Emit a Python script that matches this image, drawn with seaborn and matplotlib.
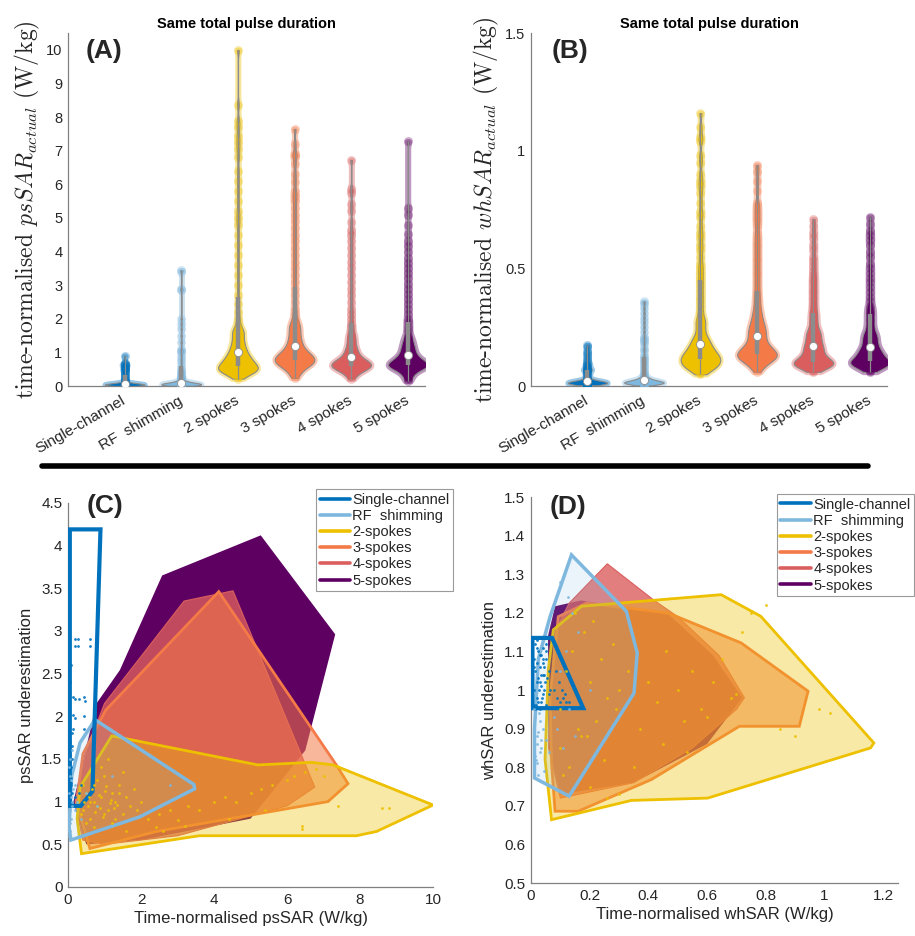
import numpy as np
import pandas as pd
import matplotlib
matplotlib.use('Agg')
import matplotlib.pyplot as plt
import seaborn as sns
from matplotlib.lines import Line2D
from matplotlib.ticker import FuncFormatter

# ---------------- data ----------------
categories = ['Single-channel', 'RF  shimming', '2 spokes', '3 spokes', '4 spokes', '5 spokes']
legend_labels = ['Single-channel', 'RF  shimming', '2-spokes', '3-spokes', '4-spokes', '5-spokes']
colors = ['#0072BD', '#7FB8DE', '#EDC000', '#F47A48', '#DB5E5E', '#5E0062']

# (A) time-normalised psSAR (W/kg)
ps_single = [0.0, 0.0, 0.01, 0.01, 0.01, 0.015, 0.02, 0.02, 0.02, 0.025, 0.03, 0.03, 0.03, 0.03,
             0.035, 0.04, 0.04, 0.04, 0.04, 0.045, 0.05, 0.05, 0.05, 0.05, 0.055, 0.06, 0.06, 0.06,
             0.065, 0.07, 0.07, 0.075, 0.08, 0.08, 0.09, 0.1, 0.12, 0.14, 0.17, 0.2, 0.24, 0.28,
             0.32, 0.36, 0.4, 0.44, 0.47, 0.5, 0.52, 0.55, 0.58, 0.6, 0.62, 0.64, 0.66, 0.68, 0.9]
ps_rf = [0.0, 0.005, 0.01, 0.01, 0.015, 0.02, 0.02, 0.025, 0.03, 0.03, 0.035, 0.04, 0.04, 0.045,
         0.05, 0.05, 0.05, 0.055, 0.06, 0.06, 0.06, 0.065, 0.07, 0.07, 0.075, 0.08, 0.08, 0.085,
         0.09, 0.095, 0.1, 0.11, 0.12, 0.13, 0.14, 0.16, 0.18, 0.2, 0.23, 0.26, 0.3, 0.35, 0.4,
         0.45, 0.5, 0.6, 0.7, 0.8, 0.9, 1.0, 1.05, 1.1, 1.3, 1.5, 1.7, 1.85, 2.0, 2.85, 2.9, 3.4, 3.45]
ps_2sp = [0.22, 0.26, 0.3, 0.33, 0.36, 0.38, 0.4, 0.42, 0.43, 0.44, 0.46, 0.47, 0.48, 0.49, 0.5,
          0.51, 0.52, 0.53, 0.54, 0.56, 0.57, 0.59, 0.6, 0.62, 0.63, 0.65, 0.66, 0.68, 0.7, 0.71,
          0.73, 0.75, 0.77, 0.79, 0.81, 0.83, 0.85, 0.87, 0.9, 0.92, 0.95, 0.98, 1.01, 1.04, 1.07,
          1.1, 1.14, 1.18, 1.22, 1.26, 1.3, 1.35, 1.4, 1.45, 1.5, 1.55, 1.6, 1.64, 1.68, 1.72,
          1.85, 2.0, 2.2, 2.45, 2.7, 3.0, 3.3, 3.6, 3.9, 4.2, 4.5, 4.8, 5.0, 5.2, 5.5, 5.8, 6.1,
          6.4, 6.8, 7.05, 7.25, 7.45, 7.7, 7.9, 8.37, 10.0]
ps_3sp = [0.24, 0.3, 0.36, 0.41, 0.45, 0.49, 0.52, 0.55, 0.57, 0.59, 0.61, 0.63, 0.65, 0.66, 0.67,
          0.68, 0.7, 0.71, 0.72, 0.74, 0.75, 0.77, 0.78, 0.79, 0.8, 0.82, 0.83, 0.84, 0.86, 0.87,
          0.88, 0.9, 0.92, 0.93, 0.95, 0.97, 0.99, 1.01, 1.03, 1.05, 1.08, 1.11, 1.14, 1.17, 1.2,
          1.24, 1.28, 1.32, 1.36, 1.4, 1.45, 1.5, 1.55, 1.6, 1.65, 1.7, 1.75, 1.8, 1.85, 1.9,
          2.0, 2.15, 2.3, 2.5, 2.7, 2.9, 3.1, 3.3, 3.5, 3.7, 3.9, 4.1, 4.3, 4.5, 4.7, 4.9, 5.1,
          5.3, 5.5, 5.65, 5.8, 6.07, 6.3, 6.6, 6.85, 6.9, 7.2, 7.65]
ps_4sp = [0.22, 0.27, 0.31, 0.35, 0.38, 0.41, 0.43, 0.45, 0.47, 0.49, 0.5, 0.51, 0.52, 0.53, 0.54,
          0.55, 0.56, 0.57, 0.58, 0.59, 0.6, 0.61, 0.62, 0.63, 0.64, 0.65, 0.66, 0.67, 0.68, 0.69,
          0.7, 0.71, 0.72, 0.73, 0.74, 0.75, 0.77, 0.78, 0.8, 0.82, 0.84, 0.86, 0.88, 0.9, 0.93,
          0.96, 0.99, 1.02, 1.05, 1.08, 1.12, 1.16, 1.2, 1.25, 1.3, 1.35, 1.4, 1.45, 1.5, 1.55,
          1.65, 1.75, 1.85, 2.0, 2.15, 2.3, 2.5, 2.7, 2.9, 3.1, 3.3, 3.5, 3.7, 3.9, 4.1, 4.3, 4.5,
          4.63, 4.88, 5.22, 5.42, 5.74, 5.87, 6.73]
ps_5sp = [0.15, 0.2, 0.25, 0.3, 0.34, 0.38, 0.41, 0.44, 0.46, 0.48, 0.5, 0.52, 0.53, 0.54, 0.55,
          0.56, 0.57, 0.58, 0.59, 0.6, 0.61, 0.62, 0.63, 0.64, 0.65, 0.66, 0.67, 0.68, 0.69, 0.7,
          0.71, 0.72, 0.74, 0.75, 0.76, 0.78, 0.8, 0.81, 0.83, 0.85, 0.87, 0.89, 0.91, 0.93, 0.96,
          0.99, 1.02, 1.05, 1.08, 1.11, 1.14, 1.17, 1.2, 1.24, 1.28, 1.32, 1.36, 1.4, 1.45, 1.5,
          1.6, 1.7, 1.8, 1.9, 2.0, 2.15, 2.3, 2.45, 2.6, 2.75, 2.9, 3.05, 3.2, 3.35, 3.5, 3.65,
          3.8, 3.99, 4.16, 4.32, 4.53, 4.78, 5.1, 5.29, 7.28]

# (B) time-normalised whSAR (W/kg)
wh_single = [0.003, 0.004, 0.005, 0.005, 0.006, 0.007, 0.008, 0.008, 0.009, 0.01, 0.01, 0.011,
             0.012, 0.012, 0.013, 0.013, 0.014, 0.014, 0.015, 0.015, 0.015, 0.016, 0.016, 0.017,
             0.018, 0.018, 0.019, 0.02, 0.02, 0.021, 0.022, 0.023, 0.025, 0.028, 0.03, 0.035, 0.04,
             0.045, 0.05, 0.055, 0.06, 0.065, 0.068, 0.07, 0.072, 0.075, 0.08, 0.085, 0.09, 0.095,
             0.1, 0.11, 0.12, 0.13, 0.14, 0.15, 0.165, 0.175]
wh_rf = [0.002, 0.004, 0.005, 0.006, 0.007, 0.008, 0.009, 0.01, 0.01, 0.011, 0.012, 0.012, 0.013,
         0.014, 0.014, 0.015, 0.015, 0.016, 0.016, 0.017, 0.017, 0.018, 0.018, 0.019, 0.02, 0.021,
         0.022, 0.023, 0.024, 0.025, 0.027, 0.029, 0.031, 0.033, 0.036, 0.04, 0.045, 0.05, 0.06,
         0.07, 0.08, 0.09, 0.1, 0.11, 0.12, 0.13, 0.15, 0.16, 0.18, 0.19, 0.2, 0.21, 0.23, 0.25,
         0.27, 0.29, 0.31, 0.33, 0.35, 0.36]
wh_2sp = [0.05, 0.055, 0.06, 0.065, 0.07, 0.073, 0.076, 0.079, 0.082, 0.085, 0.087, 0.089, 0.091,
          0.093, 0.095, 0.097, 0.099, 0.101, 0.104, 0.108, 0.11, 0.112, 0.114, 0.116, 0.118, 0.12,
          0.122, 0.124, 0.126, 0.128, 0.13, 0.133, 0.136, 0.139, 0.142, 0.145, 0.148, 0.151,
          0.154, 0.157, 0.16, 0.164, 0.168, 0.172, 0.176, 0.18, 0.185, 0.19, 0.195, 0.2, 0.205,
          0.21, 0.22, 0.23, 0.24, 0.25, 0.26, 0.27, 0.28, 0.283, 0.3, 0.32, 0.34, 0.36, 0.38,
          0.4, 0.42, 0.44, 0.46, 0.48, 0.5, 0.52, 0.55, 0.58, 0.6, 0.63, 0.65, 0.68, 0.72, 0.74,
          0.78, 0.82, 0.85, 0.87, 0.9, 0.95, 0.98, 1.04, 1.06, 1.1, 1.16]
wh_3sp = [0.06, 0.07, 0.078, 0.085, 0.09, 0.095, 0.1, 0.104, 0.107, 0.11, 0.112, 0.114, 0.116,
          0.118, 0.12, 0.122, 0.124, 0.126, 0.128, 0.13, 0.132, 0.134, 0.136, 0.138, 0.14, 0.142,
          0.144, 0.146, 0.148, 0.15, 0.153, 0.156, 0.159, 0.162, 0.165, 0.168, 0.172, 0.176,
          0.18, 0.185, 0.19, 0.195, 0.2, 0.205, 0.21, 0.215, 0.22, 0.225, 0.23, 0.235, 0.24,
          0.245, 0.25, 0.256, 0.262, 0.268, 0.275, 0.283, 0.291, 0.3, 0.31, 0.32, 0.33, 0.345,
          0.36, 0.375, 0.39, 0.41, 0.43, 0.45, 0.47, 0.49, 0.51, 0.53, 0.55, 0.57, 0.59, 0.61,
          0.63, 0.65, 0.68, 0.7, 0.72, 0.74, 0.76, 0.78, 0.83, 0.87, 0.91, 0.94]
wh_4sp = [0.06, 0.065, 0.07, 0.074, 0.077, 0.08, 0.082, 0.084, 0.086, 0.088, 0.09, 0.091, 0.092,
          0.093, 0.094, 0.095, 0.096, 0.097, 0.098, 0.1, 0.102, 0.104, 0.106, 0.108, 0.11, 0.112,
          0.115, 0.118, 0.121, 0.124, 0.127, 0.13, 0.134, 0.138, 0.142, 0.146, 0.15, 0.154,
          0.157, 0.16, 0.164, 0.168, 0.172, 0.176, 0.18, 0.185, 0.19, 0.195, 0.2, 0.205, 0.21,
          0.215, 0.22, 0.225, 0.23, 0.235, 0.24, 0.25, 0.26, 0.27, 0.28, 0.29, 0.3, 0.31, 0.32,
          0.335, 0.35, 0.365, 0.38, 0.395, 0.41, 0.425, 0.44, 0.455, 0.47, 0.49, 0.51, 0.53,
          0.55, 0.58, 0.6, 0.63, 0.65, 0.68, 0.71]
wh_5sp = [0.06, 0.065, 0.07, 0.074, 0.077, 0.08, 0.082, 0.084, 0.086, 0.088, 0.09, 0.092, 0.094,
          0.096, 0.097, 0.098, 0.099, 0.1, 0.101, 0.102, 0.104, 0.106, 0.108, 0.11, 0.112, 0.114,
          0.117, 0.12, 0.123, 0.126, 0.129, 0.132, 0.135, 0.138, 0.141, 0.144, 0.147, 0.15,
          0.153, 0.155, 0.16, 0.165, 0.17, 0.175, 0.18, 0.185, 0.19, 0.195, 0.2, 0.205, 0.21,
          0.215, 0.22, 0.225, 0.23, 0.24, 0.25, 0.26, 0.27, 0.28, 0.29, 0.3, 0.31, 0.32, 0.33,
          0.34, 0.36, 0.38, 0.4, 0.42, 0.44, 0.46, 0.48, 0.5, 0.52, 0.55, 0.57, 0.6, 0.62, 0.64,
          0.66, 0.69, 0.72]

# (C) hull vertices: x = time-normalised psSAR (W/kg), y = psSAR underestimation
hullC_single_x = [0.05, 0.89, 0.67, 0.35, 0.05]
hullC_single_y = [4.19, 4.19, 1.12, 0.95, 0.95]
hullC_rf_x = [0.74, 3.45, 3.47, 1.96, 0.08, 0.03, 0.1, 0.33]
hullC_rf_y = [1.96, 1.2, 1.15, 0.82, 0.55, 0.7, 1.3, 1.69]
hullC_2sp_x = [1.2, 5.2, 6.67, 7.26, 10.0, 8.45, 7.9, 3.6, 0.37, 0.25, 0.33]
hullC_2sp_y = [1.77, 1.43, 1.46, 1.43, 0.96, 0.65, 0.6, 0.6, 0.39, 0.8, 1.17]
hullC_3sp_x = [1.03, 4.13, 7.35, 7.67, 7.12, 2.42, 0.6, 0.23, 0.41]
hullC_3sp_y = [2.07, 3.46, 1.43, 1.21, 1.0, 0.65, 0.45, 0.98, 1.56]
hullC_4sp_x = [3.18, 4.52, 6.76, 6.0, 3.0, 1.0, 0.4, 0.2, 0.5, 1.0]
hullC_4sp_y = [3.35, 3.47, 1.17, 0.95, 0.6, 0.5, 0.55, 1.0, 1.6, 2.15]
hullC_5sp_x = [2.58, 5.28, 7.32, 6.5, 5.0, 2.0, 0.5, 0.15, 0.4, 0.78, 1.42, 1.9]
hullC_5sp_y = [3.65, 4.12, 2.96, 1.6, 0.8, 0.55, 0.5, 1.0, 1.45, 2.15, 2.54, 3.0]

# (C) sample points
ptsC_single_x = [0.2, 0.27, 0.2, 0.27, 0.6, 0.6, 0.15, 0.2, 0.45, 0.47, 0.15, 0.2, 0.45, 0.15, 0.45,
                 0.1, 0.05, 0.1, 0.05, 0.1, 0.05, 0.08, 0.04, 0.06, 0.04, 0.07, 0.05, 0.1, 0.04,
                 0.08, 0.12, 0.2, 0.3, 0.35, 0.05, 0.3, 0.08, 0.04, 0.06, 0.05, 0.07, 0.03, 0.09,
                 0.05, 0.06, 0.04]
ptsC_single_y = [2.9, 2.9, 2.82, 2.82, 2.9, 2.82, 2.23, 2.2, 2.23, 2.18, 2.02, 1.98, 2.0, 1.85, 1.85,
                 1.8, 1.7, 1.65, 1.55, 1.5, 1.45, 1.4, 1.35, 1.3, 1.25, 1.2, 1.15, 1.1, 1.05, 1.0,
                 0.98, 1.05, 1.1, 1.2, 2.4, 2.2, 2.6, 1.9, 1.6, 1.38, 1.28, 1.12, 1.22, 1.02, 1.48,
                 1.75]
ptsC_rf_x = [0.03, 0.05, 0.04, 0.06, 0.08, 0.03, 0.05, 0.1, 0.12, 0.07, 0.04, 0.15, 0.2, 0.09,
             0.05, 0.03, 0.25, 0.18, 0.06, 0.11, 0.5, 0.8, 1.2, 2.8, 0.35]
ptsC_rf_y = [0.6, 0.65, 0.7, 0.75, 0.8, 0.85, 0.9, 0.95, 1.0, 1.05, 1.1, 1.15, 1.2, 1.25, 1.3,
             1.4, 1.0, 0.9, 1.5, 1.6, 1.1, 0.95, 1.3, 1.2, 0.8]
ptsC_2sp_x = [0.4, 0.5, 0.6, 0.7, 0.8, 0.9, 1.0, 1.1, 1.2, 1.3, 1.4, 1.5, 1.6, 1.7, 1.8, 1.9, 2.0,
              0.5, 0.7, 0.9, 1.1, 1.3, 1.5, 0.6, 0.8, 1.0, 1.2, 1.4, 2.2, 2.5, 2.8, 3.0, 3.3, 3.6,
              4.0, 4.3, 4.6, 5.0, 5.3, 5.6, 6.0, 6.2, 6.5, 6.8, 7.0, 2.4, 3.2, 4.4, 5.4, 6.4,
              6.4, 7.4, 8.6, 8.8, 1.6, 2.6, 0.45, 0.55, 0.65, 0.75, 0.85, 0.95, 1.05, 1.15, 1.25,
              0.35, 0.42, 0.58, 0.72, 0.88, 1.02, 1.18, 1.35]
ptsC_2sp_y = [0.9, 1.1, 0.8, 1.2, 0.95, 1.05, 1.3, 0.9, 1.1, 1.0, 1.2, 0.85, 1.05, 0.95, 1.15,
              0.9, 1.0, 0.75, 0.7, 1.4, 1.5, 0.8, 1.35, 1.0, 1.25, 0.85, 0.75, 1.1, 0.8, 0.85,
              0.9, 0.78, 0.95, 0.9, 1.0, 1.05, 1.0, 1.1, 1.15, 1.2, 1.25, 1.3, 1.35, 1.38, 1.3,
              0.7, 0.72, 0.8, 0.9, 0.72, 0.68, 0.95, 0.92, 0.92, 0.65, 0.66, 1.0, 0.95, 1.15,
              0.88, 1.08, 0.82, 1.18, 0.98, 0.93, 0.85, 1.2, 1.05, 1.0, 0.92, 1.12, 1.02, 0.96]

# (D) hull vertices: x = time-normalised whSAR (W/kg), y = whSAR underestimation
hullD_single_x = [0.005, 0.072, 0.178, 0.005]
hullD_single_y = [1.135, 1.135, 0.953, 0.953]
hullD_rf_x = [0.138, 0.325, 0.362, 0.351, 0.13, 0.012, 0.012, 0.025, 0.065]
hullD_rf_y = [1.35, 1.204, 1.096, 0.992, 0.725, 0.772, 0.9, 1.08, 1.19]
hullD_2sp_x = [0.076, 0.172, 0.648, 0.783, 1.168, 1.157, 0.602, 0.342, 0.07, 0.048, 0.059]
hullD_2sp_y = [1.156, 1.217, 1.247, 1.191, 0.863, 0.85, 0.72, 0.714, 0.664, 0.82, 1.053]
hullD_3sp_x = [0.189, 0.466, 0.716, 0.944, 0.914, 0.71, 0.41, 0.161, 0.082, 0.07, 0.065, 0.093]
hullD_3sp_y = [1.225, 1.2, 1.122, 0.997, 0.906, 0.906, 0.768, 0.686, 0.686, 0.811, 0.984, 1.19]
hullD_4sp_x = [0.26, 0.42, 0.5, 0.64, 0.727, 0.7, 0.55, 0.35, 0.1, 0.06, 0.08, 0.13]
hullD_4sp_y = [1.327, 1.232, 1.19, 1.09, 0.98, 0.95, 0.85, 0.76, 0.72, 0.85, 1.15, 1.225]
hullD_5sp_x = [0.082, 0.17, 0.47, 0.62, 0.72, 0.6, 0.35, 0.1, 0.06, 0.058]
hullD_5sp_y = [1.217, 1.232, 1.195, 1.09, 0.98, 0.86, 0.76, 0.73, 0.85, 1.14]

# (D) sample points
ptsD_single_x = [0.01, 0.015, 0.02, 0.025, 0.03, 0.035, 0.04, 0.045, 0.05, 0.055, 0.06, 0.012,
                 0.018, 0.022, 0.028, 0.033, 0.038, 0.042, 0.048, 0.052, 0.08, 0.09, 0.1, 0.11,
                 0.12, 0.13, 0.085, 0.095, 0.105, 0.115, 0.02, 0.03, 0.04, 0.015, 0.025, 0.035,
                 0.045, 0.05, 0.06, 0.065, 0.01, 0.02, 0.03, 0.04, 0.015, 0.025, 0.035, 0.045,
                 0.01, 0.02, 0.03, 0.04, 0.05]
ptsD_single_y = [1.0, 1.05, 0.98, 1.1, 1.02, 0.97, 1.08, 1.0, 1.12, 1.03, 0.99, 1.06, 0.96, 1.11,
                 1.0, 1.04, 0.98, 1.07, 1.02, 0.96, 1.0, 0.98, 0.97, 0.98, 0.97, 0.97, 1.05, 1.02,
                 1.0, 0.99, 1.13, 1.09, 1.04, 0.95, 0.97, 1.01, 1.06, 1.1, 1.05, 1.0, 1.08, 1.02,
                 1.06, 0.99, 1.12, 1.03, 1.09, 1.04, 0.96, 1.07, 0.95, 1.11, 1.08]
ptsD_rf_x = [0.01, 0.015, 0.02, 0.025, 0.03, 0.012, 0.018, 0.022, 0.028, 0.035, 0.04, 0.045, 0.05,
             0.06, 0.08, 0.1, 0.12, 0.14, 0.1, 0.125, 0.09, 0.11, 0.13, 0.2, 0.15, 0.16, 0.01,
             0.02, 0.03, 0.015, 0.025, 0.035]
ptsD_rf_y = [0.8, 0.83, 0.86, 0.89, 0.92, 0.95, 0.82, 0.88, 0.94, 0.85, 0.9, 0.79, 0.87, 0.84,
             0.93, 1.05, 1.1, 1.2, 1.28, 1.24, 0.9, 0.85, 0.95, 1.0, 0.88, 1.15, 0.91, 0.81,
             0.84, 0.93, 0.78, 0.87]
ptsD_2sp_x = [0.08, 0.1, 0.12, 0.14, 0.16, 0.18, 0.2, 0.22, 0.24, 0.26, 0.28, 0.3, 0.1, 0.13, 0.17,
              0.21, 0.25, 0.29, 0.33, 0.37, 0.4, 0.43, 0.46, 0.5, 0.52, 0.55, 0.58, 0.62, 0.65,
              0.68, 0.72, 0.75, 0.8, 0.85, 0.9, 0.15, 0.2, 0.35, 0.45, 0.6, 0.7, 0.98, 1.02, 0.3,
              0.26, 0.53, 0.11, 0.19]
ptsD_2sp_y = [1.0, 0.95, 1.05, 1.1, 0.9, 1.15, 1.02, 0.92, 1.08, 0.98, 1.12, 1.0, 0.85, 0.8, 0.88,
              1.18, 0.82, 0.95, 1.05, 0.9, 1.02, 0.97, 1.1, 1.0, 0.92, 1.05, 0.95, 1.02, 1.08,
              0.98, 1.15, 1.2, 1.22, 0.9, 0.88, 1.2, 0.75, 0.8, 0.86, 0.93, 0.99, 0.95, 0.94, 0.73,
              0.72, 0.84, 0.78, 0.88]

ps_data = [ps_single, ps_rf, ps_2sp, ps_3sp, ps_4sp, ps_5sp]
wh_data = [wh_single, wh_rf, wh_2sp, wh_3sp, wh_4sp, wh_5sp]
hullsC = [(hullC_single_x, hullC_single_y), (hullC_rf_x, hullC_rf_y), (hullC_2sp_x, hullC_2sp_y),
          (hullC_3sp_x, hullC_3sp_y), (hullC_4sp_x, hullC_4sp_y), (hullC_5sp_x, hullC_5sp_y)]
hullsD = [(hullD_single_x, hullD_single_y), (hullD_rf_x, hullD_rf_y), (hullD_2sp_x, hullD_2sp_y),
          (hullD_3sp_x, hullD_3sp_y), (hullD_4sp_x, hullD_4sp_y), (hullD_5sp_x, hullD_5sp_y)]
ptsC = [(ptsC_single_x, ptsC_single_y, 0), (ptsC_rf_x, ptsC_rf_y, 1), (ptsC_2sp_x, ptsC_2sp_y, 2)]
ptsD = [(ptsD_single_x, ptsD_single_y, 0), (ptsD_rf_x, ptsD_rf_y, 1), (ptsD_2sp_x, ptsD_2sp_y, 2)]

# ---------------- style ----------------
sns.set_theme(style='white')
plt.rcParams['font.family'] = ['Liberation Sans', 'DejaVu Sans']
plt.rcParams['mathtext.fontset'] = 'cm'
AXC = '#808080'
TXT = '#262626'

fig = plt.figure(figsize=(9.15, 9.36), dpi=100)
axA = fig.add_axes([0.0743, 0.5876, 0.390, 0.377])
axB = fig.add_axes([0.5803, 0.5876, 0.389, 0.377])
axC = fig.add_axes([0.0743, 0.0524, 0.399, 0.4103])
axD = fig.add_axes([0.5803, 0.0566, 0.401, 0.4124])


def style_axes(ax, fs):
    for s in ['top', 'right']:
        ax.spines[s].set_visible(False)
    for s in ['left', 'bottom']:
        ax.spines[s].set_color(AXC)
        ax.spines[s].set_linewidth(0.9)
    ax.tick_params(direction='in', length=3.5, width=0.8, color=AXC, labelsize=fs,
                   labelcolor=TXT, pad=4)
    ax.grid(False)


def draw_violins(ax, datasets, bws):
    for i, (cat, vals, col, bw) in enumerate(zip(categories, datasets, colors, bws)):
        v = np.asarray(vals, float)
        df = pd.DataFrame({'cat': [cat] * len(v), 'val': v})
        factor = bw / v.std(ddof=1)
        common = dict(data=df, x='cat', y='val', order=categories, color=col, saturation=1,
                      inner=None, cut=0, density_norm='width', width=0.7, bw_method=factor,
                      gridsize=500, ax=ax)
        # halo of scattered points around the violin body
        sns.violinplot(linecolor=col, linewidth=4.0, alpha=0.4, **common)
        sns.violinplot(linecolor='#8a8a8a', linewidth=0.8, **common)
        sns.stripplot(data=df, x='cat', y='val', order=categories, color=col, jitter=False,
                      size=6.5, alpha=0.3, linewidth=0, ax=ax, zorder=3)
        q1, med, q3 = np.percentile(v, [25, 50, 75])
        ax.vlines(i, v.min(), v.max(), color='#8c8c8c', lw=0.9, zorder=4)
        ax.vlines(i, q1, q3, color='#8c8c8c', lw=3.2, zorder=5)
        ax.scatter([i], [med], s=34, color='white', edgecolor='#8c8c8c', linewidth=0.6, zorder=6)
    ax.set_xlim(-1, 5.3)
    ax.set_xticks(range(len(categories)))
    ax.set_xticklabels(categories, rotation=30, ha='right', va='center', rotation_mode='anchor')
    ax.set_xlabel('')


fmt = FuncFormatter(lambda v, p: f'{round(v, 2):g}')

# (A)
draw_violins(axA, ps_data, [0.03, 0.035, 0.12, 0.12, 0.1, 0.1])
axA.set_ylim(0, 10.5)
axA.set_yticks(range(0, 11))
style_axes(axA, 10.5)
axA.tick_params(axis='x', pad=10, labelsize=11)
axA.set_ylabel(r'time-normalised $psSAR_{actual}$ (W/kg)', fontfamily='cmr10', fontsize=17,
               labelpad=3, color=TXT)
axA.set_title('Same total pulse duration', fontweight='bold', fontsize=10.5, pad=4, color='black')
axA.text(0.05, 0.949, '(A)', transform=axA.transAxes, fontsize=19, fontweight='bold',
         ha='left', va='center')

# (B)
draw_violins(axB, wh_data, [0.006, 0.006, 0.018, 0.02, 0.018, 0.018])
axB.set_ylim(0, 1.5)
axB.set_yticks([0, 0.5, 1, 1.5])
axB.yaxis.set_major_formatter(fmt)
style_axes(axB, 10.5)
axB.tick_params(axis='x', pad=10, labelsize=11)
axB.set_ylabel(r'time-normalised $whSAR_{actual}$ (W/kg)', fontfamily='cmr10', fontsize=17,
               labelpad=3, color=TXT)
axB.set_title('Same total pulse duration', fontweight='bold', fontsize=10.5, pad=4, color='black')
axB.text(0.057, 0.949, '(B)', transform=axB.transAxes, fontsize=19, fontweight='bold',
         ha='left', va='center')

# (C) & (D)
face_alpha = [0.0, 0.15, 0.35, 0.55, 0.8, 1.0]
edge_w = [3.0, 2.5, 2.0, 2.0, 0.8, 0.0]


def draw_hulls(ax, hulls, pts):
    order = [5, 4, 3, 2, 1, 0]
    for k, i in enumerate(order):
        hx, hy = hulls[i]
        ax.fill(hx, hy, facecolor=colors[i], alpha=face_alpha[i], edgecolor='none',
                zorder=1 + k)
        if edge_w[i] > 0:
            ax.fill(hx, hy, facecolor='none', edgecolor=colors[i], linewidth=edge_w[i],
                    zorder=1 + k + 0.5, joinstyle='miter')
    for px, py, i in pts:
        sns.scatterplot(x=px, y=py, color=colors[i], s=4, linewidth=0, alpha=0.9, ax=ax,
                        zorder=8 if i == 2 else 9)
    handles = [Line2D([0], [0], color=c, lw=2.6) for c in colors]
    return handles


def add_legend(ax, handles, anchor):
    leg = ax.legend(handles, legend_labels, loc='upper left', bbox_to_anchor=anchor,
                    fontsize=10.5, frameon=True, fancybox=False, framealpha=1,
                    edgecolor='#9a9a9a', handlelength=2.1, handletextpad=0.15,
                    labelspacing=0.15, borderpad=0.25, borderaxespad=0)
    leg.get_frame().set_linewidth(0.8)
    leg.set_zorder(20)


hC = draw_hulls(axC, hullsC, ptsC)
axC.set_xlim(0, 10)
axC.set_ylim(0, 4.5)
axC.set_xticks(range(0, 11, 2))
axC.set_yticks(np.arange(0, 4.51, 0.5))
axC.xaxis.set_major_formatter(fmt)
axC.yaxis.set_major_formatter(fmt)
style_axes(axC, 11)
axC.set_xlabel('Time-normalised psSAR (W/kg)', fontsize=12, color=TXT, labelpad=3)
axC.set_ylabel('psSAR underestimation', fontsize=12, color=TXT, labelpad=5)
axC.text(0.052, 0.992, '(C)', transform=axC.transAxes, fontsize=19, fontweight='bold',
         ha='left', va='center')
add_legend(axC, hC, (0.679, 1.036))

hD = draw_hulls(axD, hullsD, ptsD)
axD.set_xlim(0, 1.25)
axD.set_ylim(0.5, 1.5)
axD.set_xticks(np.arange(0, 1.21, 0.2))
axD.set_yticks(np.arange(0.5, 1.51, 0.1))
axD.xaxis.set_major_formatter(fmt)
axD.yaxis.set_major_formatter(fmt)
style_axes(axD, 11)
axD.set_xlabel('Time-normalised whSAR (W/kg)', fontsize=12, color=TXT, labelpad=3)
axD.set_ylabel('whSAR underestimation', fontsize=12, color=TXT, labelpad=5)
axD.text(0.052, 0.974, '(D)', transform=axD.transAxes, fontsize=19, fontweight='bold',
         ha='left', va='center')
add_legend(axD, hD, (0.670, 1.008))

# separator line
fig.add_artist(Line2D([0.046, 0.949], [0.502, 0.502], transform=fig.transFigure,
                      color='black', lw=4))

fig.savefig('out.png', dpi=100)
